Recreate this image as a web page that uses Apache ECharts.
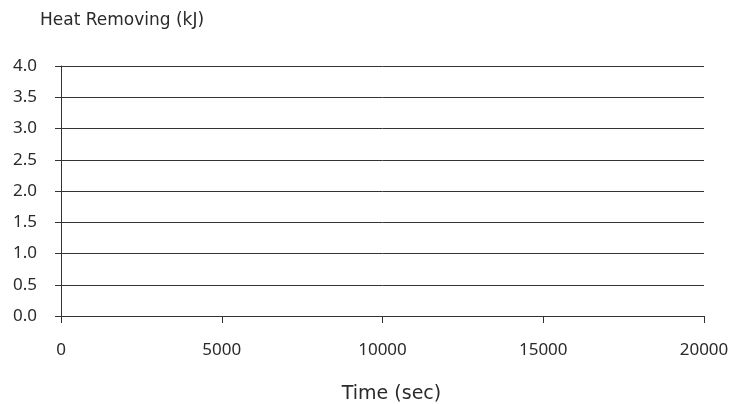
<!DOCTYPE html>
<html><head><meta charset="utf-8">
<script src="https://cdn.jsdelivr.net/npm/echarts@6/dist/echarts.min.js"></script>
<style>html,body{margin:0;padding:0;background:#fff}#c{width:730px;height:404px}</style>
</head><body><div id="c"></div>
<script>
const xMin = 0, xMax = 20000, xStep = 5000;
const yMin = 0, yMax = 4, yStep = 0.5;
const seriesData = [];
const yTitle = 'Heat Removing (kJ)';
const xTitle = 'Time (sec)';

const chart = echarts.init(document.getElementById('c'));
const tfont = '"DejaVu Sans", sans-serif';
const nfont = '"Noto Sans", sans-serif';
chart.setOption({
  animation: false,
  backgroundColor: '#fff',
  grid: {left: 61, right: 26, top: 66, bottom: 88, containLabel: false, outerBoundsMode: 'none'},
  title: {text: yTitle, left: 40, top: 12, padding: 0, textStyle: {fontFamily: tfont, fontSize: 17, fontWeight: 'normal', color: '#2a2a2a'}},
  xAxis: {
    type: 'value', min: xMin, max: xMax, interval: xStep,
    name: xTitle, nameLocation: 'middle', nameGap: 69,
    nameTextStyle: {fontFamily: tfont, fontSize: 19, color: '#2a2a2a', padding: [0, 0, 0, 18]},
    axisLine: {show: true, lineStyle: {color: '#333', width: 1}},
    axisTick: {show: true, length: 7, inside: false, lineStyle: {color: '#333'}},
    axisLabel: {fontFamily: nfont, fontSize: 17, color: '#2a2a2a', margin: 26, formatter: v => String(v)},
    splitLine: {show: false}
  },
  yAxis: {
    type: 'value', min: yMin, max: yMax, interval: yStep,
    axisLine: {show: true, lineStyle: {color: '#333', width: 1}},
    axisTick: {show: true, length: 6, lineStyle: {color: '#333'}},
    axisLabel: {fontFamily: nfont, fontSize: 17, color: '#2a2a2a', margin: 24, formatter: v => v.toFixed(1)},
    splitLine: {show: true, lineStyle: {color: '#333', width: 1}}
  },
  series: [{type: 'line', data: seriesData, symbol: 'none'}]
});
</script></body></html>
